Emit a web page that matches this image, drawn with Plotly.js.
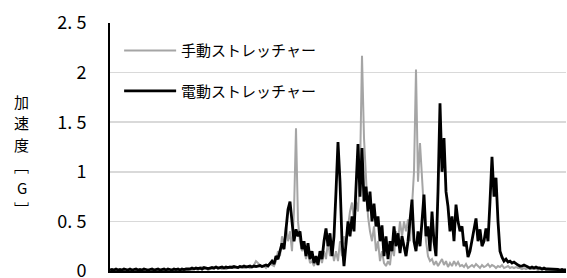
<!DOCTYPE html>
<html><head><meta charset="utf-8">
<script src="https://cdn.plot.ly/plotly-3.0.1.min.js"></script>
<style>html,body{margin:0;padding:0;background:#fff;}#chart{width:567px;height:278px;}</style>
</head><body><div id="chart"></div>
<script>
const seriesNames = ["手動ストレッチャー", "電動ストレッチャー"];
const yTickVals = [0, 0.5, 1, 1.5, 2, 2.5];
const yTickText = ["0", "0. 5", "1", "1. 5", "2", "2. 5"];
const yTitleChars = ["加", "速", "度", "﹇", "G", "﹈"];

const manual = [
0.01,0.005,0.01,0.005,0.01,0.005,0.01,0.01,0.005,0.01,
0.005,0.01,0.005,0.01,0.01,0.005,0.01,0.005,0.01,0.01,
0.005,0.01,0.01,0.005,0.01,0.005,0.01,0.01,0.005,0.01,
0.01,0.005,0.01,0.01,0.005,0.01,0.01,0.005,0.01,0.01,
0.02,0.01,0.03,0.02,0.01,0.03,0.04,0.02,0.03,0.01,
0.02,0.03,0.02,0.04,0.02,0.03,0.02,0.03,0.02,0.03,
0.03,0.05,0.03,0.04,0.03,0.05,0.04,0.03,0.05,0.04,
0.03,0.04,0.06,0.1,0.08,0.05,0.04,0.05,0.03,0.06,
0.08,0.06,0.05,0.1,0.2,0.15,0.35,0.25,0.45,0.3,
0.4,0.2,0.6,1.44,0.5,0.3,0.2,0.25,0.12,0.2,
0.08,0.1,0.05,0.12,0.06,0.15,0.08,0.2,0.12,0.3,
0.15,0.25,0.1,0.2,0.1,0.3,0.15,0.35,0.25,0.45,
0.6,0.69,0.5,0.7,0.6,1.0,2.17,1.34,0.9,0.55,
0.4,0.3,0.45,0.2,0.3,0.1,0.2,0.08,0.05,0.1,
0.06,0.25,0.15,0.4,0.3,0.5,0.35,0.5,0.4,0.52,
0.3,0.6,1.0,2.03,0.9,1.29,0.9,0.6,0.3,0.15,
0.1,0.12,0.06,0.1,0.05,0.08,0.12,0.06,0.1,0.04,
0.08,0.05,0.1,0.06,0.09,0.05,0.06,0.04,0.07,0.03,
0.05,0.06,0.04,0.07,0.05,0.03,0.06,0.04,0.05,0.07,
0.04,0.06,0.05,0.03,0.05,0.04,0.06,0.03,0.04,0.05,
0.03,0.04,0.03,0.04,0.03,0.03,0.02,0.03,0.02,0.03,
0.02,0.02,0.02,0.02,0.01,0.02,0.01,0.02,0.01,0.01,
0.01,0.01,0.01,0.01,0.01,0.01,0.01,0.01,0.01
];

const electric = [
0.01,0.015,0.01,0.02,0.01,0.015,0.01,0.02,0.015,0.01,
0.02,0.01,0.015,0.02,0.01,0.015,0.01,0.02,0.015,0.01,
0.015,0.02,0.01,0.015,0.02,0.01,0.015,0.02,0.01,0.02,
0.015,0.01,0.02,0.015,0.02,0.01,0.02,0.015,0.02,0.02,
0.02,0.03,0.02,0.03,0.025,0.03,0.02,0.035,0.03,0.025,
0.03,0.035,0.03,0.04,0.03,0.035,0.04,0.03,0.04,0.035,
0.04,0.035,0.045,0.04,0.035,0.045,0.04,0.05,0.04,0.045,
0.05,0.04,0.05,0.045,0.05,0.055,0.045,0.05,0.06,0.05,
0.08,0.1,0.07,0.15,0.12,0.2,0.28,0.22,0.4,0.62,
0.7,0.5,0.3,0.42,0.35,0.4,0.22,0.3,0.15,0.28,
0.12,0.2,0.08,0.15,0.06,0.2,0.12,0.3,0.43,0.25,
0.38,0.15,0.35,0.8,1.3,0.9,0.3,0.05,0.3,0.5,
0.35,0.55,0.4,0.9,1.28,0.75,1.24,0.7,0.85,0.6,
0.8,0.5,0.68,0.45,0.55,0.3,0.46,0.15,0.35,0.12,
0.3,0.2,0.45,0.25,0.38,0.18,0.35,0.25,0.15,0.3,
0.55,0.72,0.3,0.2,0.4,0.25,0.5,0.77,0.35,0.45,
0.2,0.6,0.3,0.15,0.8,1.69,1.0,1.34,0.8,0.65,
0.4,0.55,0.3,0.67,0.5,0.4,0.45,0.25,0.3,0.14,
0.2,0.3,0.4,0.53,0.3,0.42,0.25,0.3,0.43,0.3,
0.7,1.15,0.75,0.94,0.5,0.2,0.14,0.1,0.12,0.09,
0.1,0.08,0.09,0.07,0.06,0.05,0.05,0.06,0.05,0.04,
0.03,0.04,0.03,0.04,0.03,0.03,0.02,0.03,0.02,0.02,
0.02,0.02,0.015,0.02,0.015,0.01,0.015,0.01,0.01
];

const sampleIndex = manual.map((_, i) => i);

const fontFam = "'Noto Sans CJK JP', 'Noto Sans', sans-serif";

const traces = [
  {x: sampleIndex, y: manual, type: "scatter", mode: "lines", name: seriesNames[0],
   legendgroup: "a", line: {color: "#a5a5a5", width: 2}},
  {x: sampleIndex, y: electric, type: "scatter", mode: "lines", name: seriesNames[1],
   legendgroup: "b", line: {color: "#000000", width: 2.8}}
];

// vertical stacked y-axis title, one annotation per character
const plotTop = 23, plotH = 248, titleTop = 101, titleStep = 21.5;
const titleAnnotations = yTitleChars.map((ch, k) => ({
  xref: "paper", yref: "paper", x: -0.193,
  y: (plotTop + plotH - (titleTop + k * titleStep)) / plotH,
  xanchor: "center", yanchor: "middle", text: ch, showarrow: false, borderpad: 0,
  font: {family: fontFam, size: 15, color: "#000"}
}));

const layout = {
  width: 567, height: 278,
  margin: {l: 110, r: 1, t: plotTop, b: 7},
  paper_bgcolor: "#ffffff", plot_bgcolor: "#ffffff",
  showlegend: true,
  legend: {x: 0.02, y: 0.955, xanchor: "left", yanchor: "top", bgcolor: "rgba(0,0,0,0)",
           font: {family: fontFam, size: 15, color: "#000"}, traceorder: "grouped",
           tracegroupgap: 18, itemwidth: 52},
  xaxis: {range: [0, manual.length - 1], showgrid: false, zeroline: false, showticklabels: false,
          ticks: "", showline: true, linecolor: "#000", linewidth: 2},
  yaxis: {range: [0, 2.5], tickvals: yTickVals, ticktext: yTickText, showgrid: true,
          gridcolor: "#d9d9d9", gridwidth: 1.5, zeroline: false, showline: true, linecolor: "#000",
          linewidth: 2, ticks: "", ticklabelstandoff: 18, ticklabeloverflow: "allow",
          tickfont: {family: fontFam, size: 18, color: "#000"}},
  annotations: titleAnnotations
};

Plotly.newPlot("chart", traces, layout, {displayModeBar: false, staticPlot: true});
</script></body></html>
